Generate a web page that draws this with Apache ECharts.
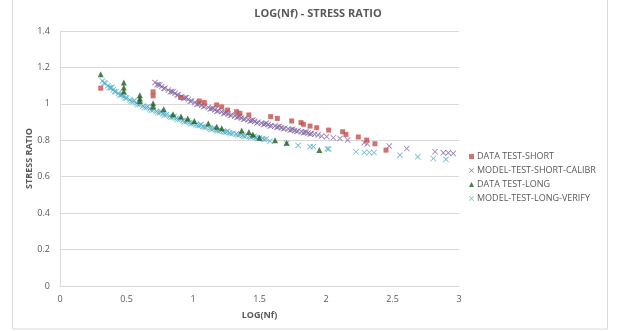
<!DOCTYPE html>
<html>
<head>
<meta charset="utf-8">
<script src="https://cdn.jsdelivr.net/npm/echarts@6/dist/echarts.min.js"></script>
<style>
  html, body { margin: 0; padding: 0; background: #fff; }
  #main { width: 619px; height: 331px; }
</style>
</head>
<body>
<div id="main"></div>
<script>
var titleText = 'LOG(Nf) - STRESS RATIO';
var xName = 'LOG(Nf)';
var yName = 'STRESS RATIO';
var seriesNames = ['DATA TEST-SHORT', 'MODEL-TEST-SHORT-CALIBR', 'DATA TEST-LONG', 'MODEL-TEST-LONG-VERIFY'];

// measured points, short test
var dataShort = [
  [0.306, 1.086], [0.70, 1.066], [0.70, 1.044], [0.907, 1.035], [1.047, 1.016], [1.085, 1.007],
  [1.178, 0.994], [1.216, 0.983], [1.26, 0.966], [1.328, 0.957], [1.353, 0.948], [1.42, 0.939],
  [1.584, 0.93], [1.634, 0.92], [1.742, 0.906], [1.812, 0.897], [1.83, 0.888], [1.88, 0.878],
  [1.93, 0.869], [2.02, 0.856], [2.125, 0.847], [2.15, 0.832], [2.243, 0.818], [2.306, 0.801],
  [2.368, 0.781], [2.451, 0.746]
];

// model, short test (calibration) - dense band then sparse tail
var modelShort = [
  [0.714, 1.117], [0.74, 1.105], [0.765, 1.095], [0.79, 1.086], [0.815, 1.076], [0.84, 1.068],
  [0.865, 1.058], [0.89, 1.05], [0.915, 1.041], [0.94, 1.033], [0.965, 1.024], [0.99, 1.016],
  [1.015, 1.008], [1.04, 1.0], [1.065, 0.993], [1.09, 0.987], [1.115, 0.98], [1.14, 0.974],
  [1.165, 0.967], [1.19, 0.962], [1.215, 0.956], [1.24, 0.95], [1.265, 0.944], [1.29, 0.939],
  [1.315, 0.934], [1.34, 0.928], [1.365, 0.923], [1.39, 0.918], [1.415, 0.913], [1.44, 0.908],
  [1.465, 0.904], [1.49, 0.899], [1.515, 0.894], [1.54, 0.89], [1.565, 0.886], [1.59, 0.881],
  [1.615, 0.877], [1.64, 0.873], [1.665, 0.869], [1.69, 0.866], [1.715, 0.862], [1.74, 0.858],
  [1.765, 0.854], [1.79, 0.851], [1.815, 0.847], [1.84, 0.844], [1.865, 0.84], [1.89, 0.837],
  [1.915, 0.833], [1.94, 0.83],
  [0.73, 1.106], [0.78, 1.085], [0.83, 1.066], [0.88, 1.049], [0.93, 1.031], [0.98, 1.015],
  [1.03, 0.998], [1.08, 0.984], [1.13, 0.972], [1.18, 0.96], [1.23, 0.947], [1.28, 0.936],
  [1.33, 0.926], [1.38, 0.915], [1.43, 0.905], [1.48, 0.896], [1.53, 0.887], [1.58, 0.878],
  [1.63, 0.871], [1.68, 0.863], [1.73, 0.855], [1.78, 0.849], [1.83, 0.841], [1.88, 0.834],
  [0.75, 1.104], [0.85, 1.067], [0.95, 1.034], [1.05, 1.002], [1.15, 0.976], [1.25, 0.952],
  [1.35, 0.93], [1.45, 0.911], [1.55, 0.893], [1.65, 0.877], [1.75, 0.861], [1.85, 0.846],
  [1.967, 0.823], [2.005, 0.82], [2.055, 0.814], [2.105, 0.81], [2.163, 0.801], [2.288, 0.787],
  [2.31, 0.781], [2.476, 0.768], [2.607, 0.755], [2.82, 0.737], [2.882, 0.731], [2.92, 0.731],
  [2.957, 0.728]
];

// measured points, long test
var dataLong = [
  [0.306, 1.163], [0.48, 1.117], [0.48, 1.09], [0.48, 1.068], [0.60, 1.047], [0.60, 1.03],
  [0.60, 1.016], [0.70, 1.003], [0.70, 0.985], [0.78, 0.97], [0.85, 0.943], [0.91, 0.93],
  [0.96, 0.919], [1.01, 0.906], [1.115, 0.892], [1.178, 0.875], [1.216, 0.866], [1.366, 0.854],
  [1.42, 0.845], [1.45, 0.832], [1.5, 0.814], [1.617, 0.8], [1.704, 0.787], [1.95, 0.746]
];

// model, long test (verification) - dense band then sparse tail
var modelLong = [
  [0.32, 1.126], [0.34, 1.113], [0.36, 1.1], [0.38, 1.088], [0.40, 1.077], [0.42, 1.067],
  [0.44, 1.058], [0.46, 1.049], [0.48, 1.04], [0.50, 1.032], [0.525, 1.022], [0.55, 1.013],
  [0.575, 1.004], [0.60, 0.996], [0.625, 0.988], [0.65, 0.98], [0.675, 0.973], [0.70, 0.966],
  [0.725, 0.959], [0.75, 0.953], [0.775, 0.946], [0.80, 0.94], [0.825, 0.933], [0.85, 0.927],
  [0.875, 0.921], [0.90, 0.915], [0.925, 0.909], [0.95, 0.903], [0.975, 0.897], [1.0, 0.892],
  [1.025, 0.886], [1.05, 0.881], [1.075, 0.876], [1.10, 0.871], [1.125, 0.866], [1.15, 0.862],
  [1.175, 0.857], [1.20, 0.853], [1.225, 0.849], [1.25, 0.845], [1.275, 0.841], [1.30, 0.838],
  [1.325, 0.834], [1.35, 0.831], [1.375, 0.828], [1.40, 0.825], [1.425, 0.822], [1.45, 0.819],
  [1.475, 0.816], [1.50, 0.813], [1.525, 0.81], [1.55, 0.807],
  [0.33, 1.114], [0.37, 1.09], [0.41, 1.068], [0.45, 1.049], [0.49, 1.032], [0.535, 1.014],
  [0.585, 0.996], [0.635, 0.98], [0.685, 0.965], [0.735, 0.952], [0.785, 0.939], [0.835, 0.926],
  [0.885, 0.914], [0.935, 0.902], [0.985, 0.891], [1.035, 0.881], [1.085, 0.871], [1.135, 0.861],
  [1.185, 0.852], [1.235, 0.844], [1.285, 0.836], [1.335, 0.829], [1.385, 0.822], [1.435, 0.816],
  [1.485, 0.81], [1.535, 0.804],
  [0.39, 1.09], [0.47, 1.052], [0.56, 1.018], [0.66, 0.985], [0.76, 0.957], [0.86, 0.931],
  [0.96, 0.906], [1.06, 0.886], [1.16, 0.867], [1.26, 0.849], [1.36, 0.835], [1.46, 0.822],
  [1.579, 0.795], [1.704, 0.783], [1.79, 0.772], [1.88, 0.765], [1.905, 0.765], [2.01, 0.754],
  [2.02, 0.752], [2.226, 0.737], [2.288, 0.733], [2.326, 0.733], [2.361, 0.733], [2.556, 0.718],
  [2.69, 0.709], [2.807, 0.70], [2.902, 0.695]
];

var crossPath = 'path://M0,1L1,0L5,4L9,0L10,1L6,5L10,9L9,10L5,6L1,10L0,9L4,5Z';
var textColor = '#595959';
var fontName = 'Open Sans';

var chart = echarts.init(document.getElementById('main'), null, { renderer: 'canvas' });
chart.setOption({
  backgroundColor: '#ffffff',
  animation: false,
  title: {
    text: titleText,
    left: 313,
    textAlign: 'center',
    top: 3,
    textStyle: { fontFamily: fontName, fontSize: 11, fontWeight: 'bold', color: textColor }
  },
  legend: {
    orient: 'vertical',
    left: 464,
    top: 147,
    itemWidth: 5,
    itemHeight: 5,
    itemGap: 5,
    data: seriesNames,
    textStyle: { fontFamily: fontName, fontSize: 9, color: textColor, padding: [0, 0, 0, -2] }
  },
  graphic: [{
    type: 'rect',
    shape: { x: 12.5, y: -1, width: 595, height: 330 },
    style: { fill: 'none', stroke: '#d9d9d9', lineWidth: 1 },
    silent: true
  }],
  grid: { left: 60, right: 160, top: 31, bottom: 45 },
  xAxis: {
    type: 'value',
    min: 0, max: 3, interval: 0.5,
    name: xName,
    nameLocation: 'middle',
    nameGap: 25,
    nameTextStyle: { fontFamily: fontName, fontSize: 9, fontWeight: 'bold', color: textColor },
    axisLine: { show: true, onZero: false, lineStyle: { color: '#d9d9d9' } },
    axisTick: { show: false },
    splitLine: { show: false },
    axisLabel: { fontFamily: fontName, fontSize: 9, color: textColor, margin: 9 }
  },
  yAxis: {
    type: 'value',
    min: 0, max: 1.4, interval: 0.2,
    name: yName,
    nameLocation: 'middle',
    nameGap: 26,
    nameMoveOverlap: false,
    nameTextStyle: { fontFamily: fontName, fontSize: 9, fontWeight: 'bold', color: textColor },
    axisLine: { show: true, lineStyle: { color: '#d9d9d9' } },
    axisTick: { show: false },
    splitLine: { show: true, lineStyle: { color: '#d9d9d9' } },
    axisLabel: {
      fontFamily: fontName, fontSize: 9, color: textColor, margin: 10,
      formatter: function (v) { return String(Math.round(v * 10) / 10); }
    }
  },
  series: [
    {
      name: seriesNames[0], type: 'scatter', data: dataShort,
      symbol: 'rect', symbolSize: 5, itemStyle: { color: '#c0504d' }, z: 4
    },
    {
      name: seriesNames[1], type: 'scatter', data: modelShort,
      symbol: crossPath, symbolSize: 6, itemStyle: { color: '#8064a2' }, z: 3
    },
    {
      name: seriesNames[2], type: 'scatter', data: dataLong,
      symbol: 'triangle', symbolSize: 6, itemStyle: { color: '#1e5f20' }, z: 5
    },
    {
      name: seriesNames[3], type: 'scatter', data: modelLong,
      symbol: crossPath, symbolSize: 6, itemStyle: { color: '#4bacc6' }, z: 2
    }
  ]
});
</script>
</body>
</html>
